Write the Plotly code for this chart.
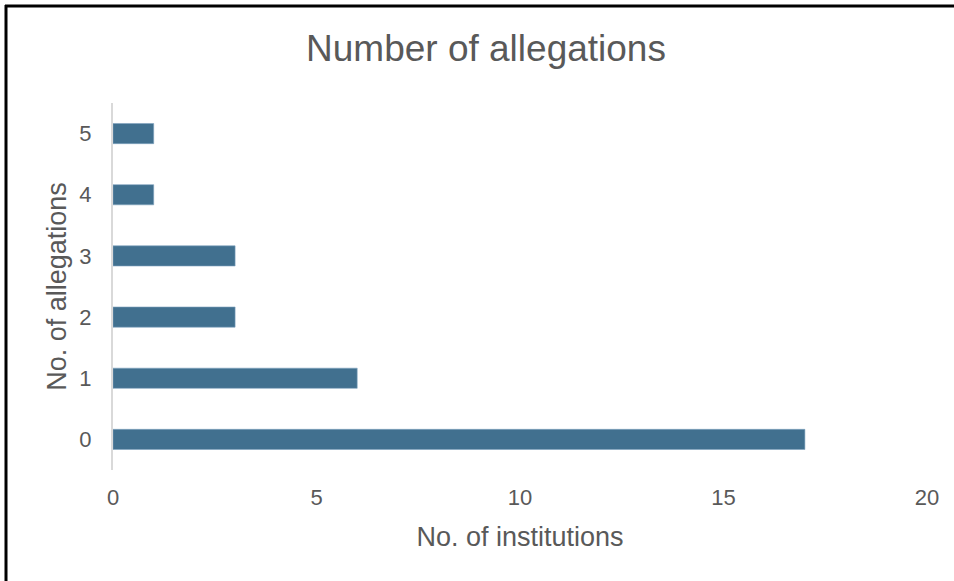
import plotly.graph_objects as go

categories = ["0", "1", "2", "3", "4", "5"]
institutions = [17, 6, 3, 3, 1, 1]

W, H = 954, 581
ml, mr, mt, mb = 113, 27, 103, 111
pw, ph = W - ml - mr, H - mt - mb

fig = go.Figure(go.Bar(
    y=categories, x=institutions, orientation="h",
    marker=dict(color="#41708f", line=dict(color="#7fa3bf", width=0.6)),
))

def px_x(p):
    return (p - ml) / pw

def px_y(p):
    return (H - mb - p) / ph

GRAY = "#595959"
fig.update_layout(
    width=W, height=H,
    margin=dict(l=ml, r=mr, t=mt, b=mb),
    paper_bgcolor="white", plot_bgcolor="white",
    font=dict(family="Liberation Sans, Arial, sans-serif", color=GRAY, size=22),
    title=dict(text="Number of allegations", xref="container", x=486 / W, xanchor="center",
               y=1 - 48 / H, yanchor="middle", font=dict(size=37, color=GRAY)),
    bargap=0.67,
    showlegend=False,
    xaxis=dict(range=[0, 20], tickvals=[0, 5, 10, 15, 20], showgrid=False, zeroline=False,
               showline=False, ticks="", ticklabelstandoff=12, tickfont=dict(size=22, color=GRAY),
               title=dict(text="No. of institutions", standoff=18, font=dict(size=27, color=GRAY))),
    yaxis=dict(type="category", categoryorder="array", categoryarray=categories, range=[-0.5, 5.5],
               showgrid=False, zeroline=False, showline=True, linecolor="#d9d9d9", linewidth=2,
               ticks="", ticklabelstandoff=15, tickfont=dict(size=22, color=GRAY),
               title=dict(text="No. of allegations", standoff=5, font=dict(size=27, color=GRAY))),
    shapes=[
        dict(type="line", xref="paper", yref="paper", x0=px_x(5), x1=px_x(W + 5), y0=px_y(6), y1=px_y(6),
             line=dict(color="black", width=3)),
        dict(type="line", xref="paper", yref="paper", x0=px_x(6), x1=px_x(6), y0=px_y(5), y1=px_y(H + 5),
             line=dict(color="black", width=3)),
    ],
)

fig.write_html("out.html", config={"displayModeBar": False},
               post_script="document.body.style.margin='0';document.body.style.overflow='hidden';")
